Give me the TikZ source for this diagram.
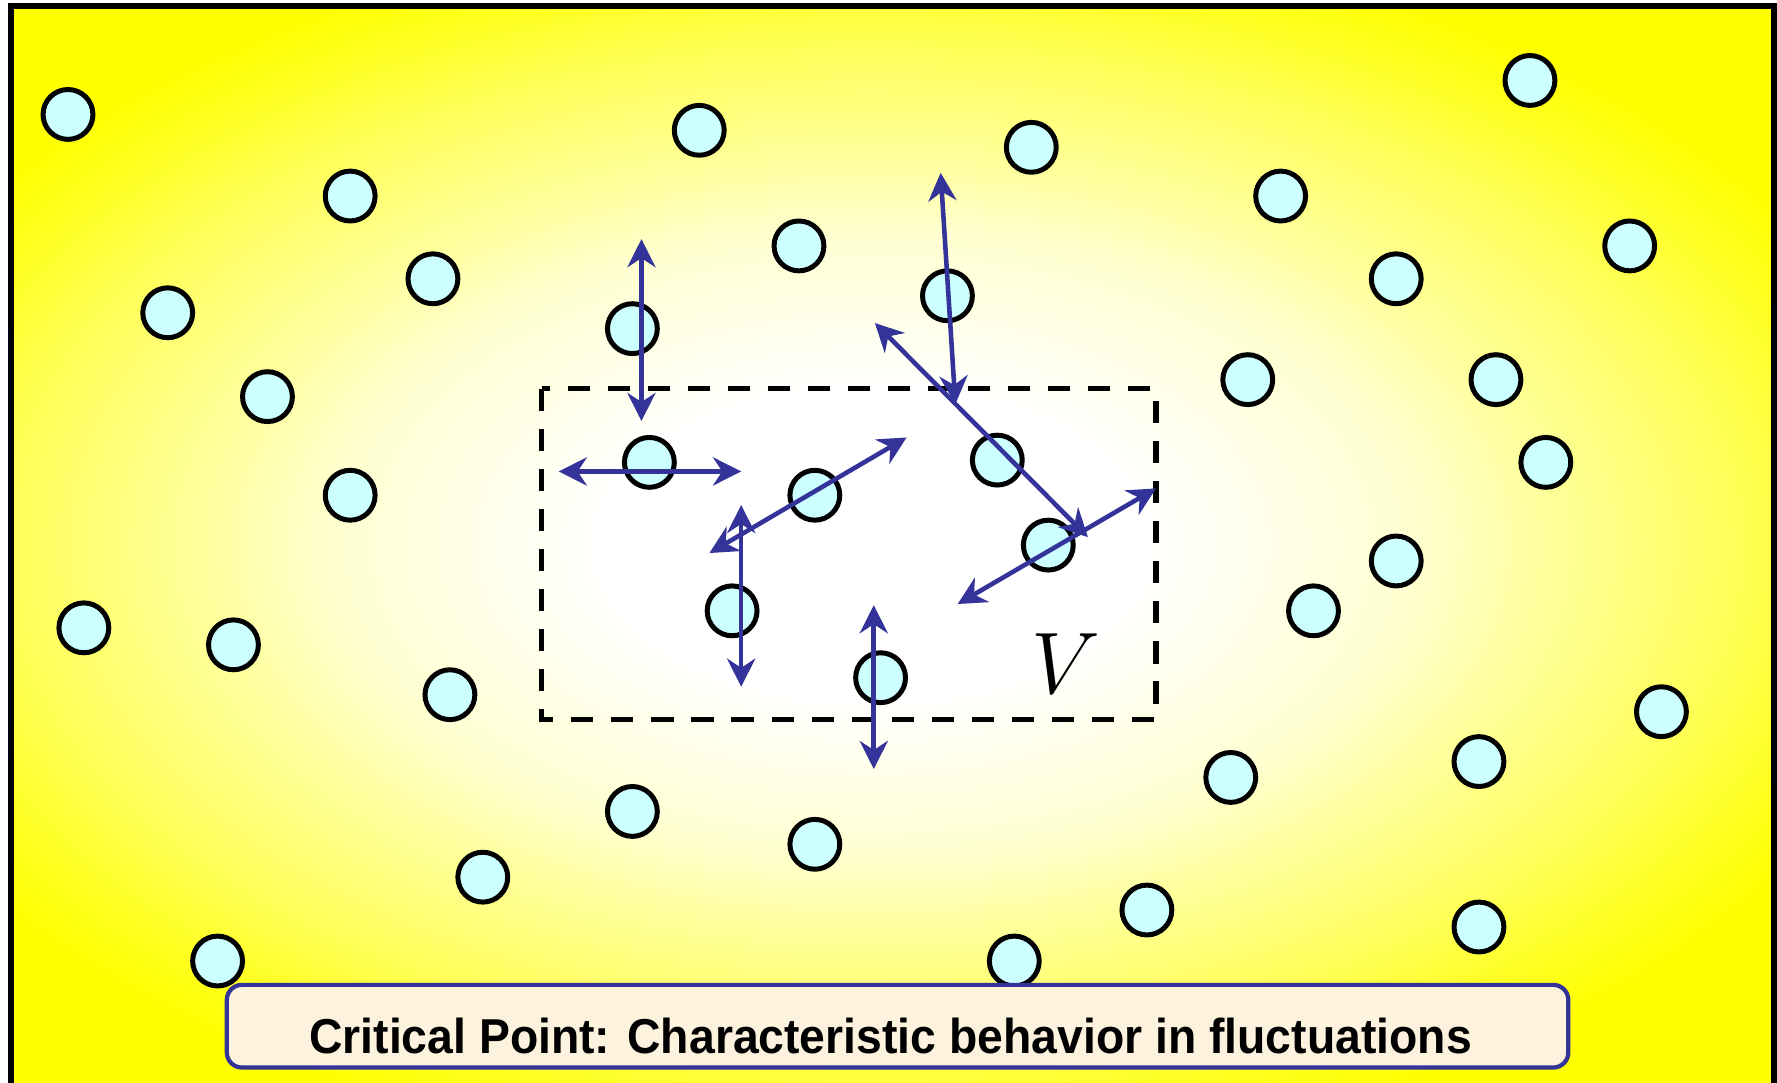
\documentclass[tikz,border=0pt]{standalone}
\usepackage{fontspec}
\usetikzlibrary{arrows.meta}
\newfontfamily\capfont{Liberation Sans}
\definecolor{ballfill}{RGB}{204,255,255}
\definecolor{arrowblue}{RGB}{51,51,153}
\definecolor{capfill}{RGB}{252,242,222}
\definecolor{bgyellow}{RGB}{255,255,0}
\colorlet{bgA}{white!82!bgyellow}
\colorlet{bgB}{white!62!bgyellow}
\colorlet{bgC}{white!35!bgyellow}
\colorlet{bgD}{white!12!bgyellow}
\pgfdeclareradialshading{bgshade}{\pgfpoint{0bp}{0bp}}{color(0bp)=(white); color(4.75bp)=(white); color(9.5bp)=(bgA); color(11.8bp)=(bgB); color(15.2bp)=(bgC); color(17.5bp)=(bgD); color(19bp)=(bgyellow); color(50bp)=(bgyellow)}
\tikzset{
  ball/.style={circle, draw=black, fill=ballfill, line width=1.42pt, minimum size=0.4987cm, inner sep=0pt},
  arr/.style={draw=arrowblue, line width=1.3pt,
    {Stealth[length=8pt, width=8pt, inset=2.6pt]}-{Stealth[length=8pt, width=8pt, inset=2.6pt]}},
  vbox/.style={draw=black, line width=1.5pt, dash pattern=on 6.3pt off 5.1pt},
  capbox/.style={draw=arrowblue, fill=capfill, line width=1.2pt, rounded corners=4.3pt,
    minimum width=13.42cm, minimum height=0.827cm, inner sep=0pt},
  frame/.style={draw=black, line width=1.7pt}
}
\begin{document}
\begin{tikzpicture}[x=0.0113329cm, y=-0.0113329cm]
\useasboundingbox (0,0) rectangle (1568,955);
\clip (0,0) rectangle (1568,955);
\fill[white] (0,0) rectangle (1568,955);
\fill[bgyellow] (9.3,5.3) rectangle (1565.5,1000);
\begin{scope}
  \clip (9.3,5.3) rectangle (1565.5,1000);
  \shade[shading=bgshade] (770,480) ellipse [x radius=1250, y radius=720];
\end{scope}
\draw[frame] (9.3,5.3) rectangle (1565.5,1000);

\foreach \x/\y [count=\i] in {60/101, 617/115, 910/130, 1350/71, 309/173, 1130/173, 705/217, 1438/217,
  382/246, 1232/246, 148/276, 558/290, 836/261, 236/350, 1101/335, 1320/335, 573/408, 880/406,
  1364/408, 309/437, 719/437, 925/481, 1232/495, 646/539, 1159/539, 74/554, 206/569, 777/598,
  397/613, 1466/628, 1305/672, 1086/686, 558/716, 719/745, 426/774, 1012/803, 192/848, 895/848, 1305/818}
  \node[ball] (b\i) at (\x,\y) {};

\draw[vbox] (478,343) rectangle (1020,635);
\node[inner sep=0pt, font=\fontsize{24.6}{25}\selectfont] (vlabel) at (941,586) {$V$};

\coordinate (a1s) at (566,211);   \coordinate (a1e) at (566,371.5);
\coordinate (a2s) at (493,416);   \coordinate (a2e) at (654,416);
\coordinate (a3s) at (626,488);   \coordinate (a3e) at (800,386);
\coordinate (a4s) at (654,445.6); \coordinate (a4e) at (654,606);
\coordinate (a5s) at (830,152.5); \coordinate (a5e) at (843,356.5);
\coordinate (a6s) at (772,285);   \coordinate (a6e) at (960,474);
\coordinate (a7s) at (845,533);   \coordinate (a7e) at (1020,431);
\coordinate (a8s) at (771,534);   \coordinate (a8e) at (771,678.6);
\foreach \k in {1,...,8} \draw[arr] (a\k s) -- (a\k e);

\node[capbox] (cap) at (792,905.5) {};
\node[anchor=base, inner sep=0pt] (captext) at (785.8,930)
  {\resizebox{11.63cm}{0.355cm}{\capfont\bfseries Critical Point: Characteristic behavior in fluctuations}};
\end{tikzpicture}
\end{document}
